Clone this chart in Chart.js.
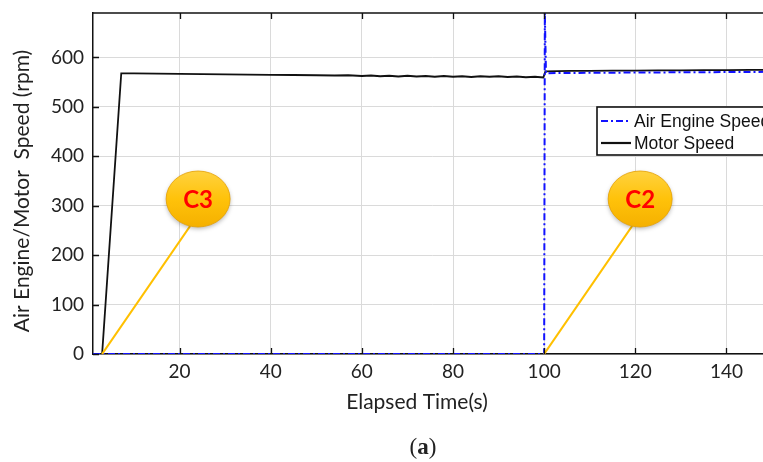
<!DOCTYPE html>
<html>
<head>
<meta charset="utf-8">
<script src="https://cdn.jsdelivr.net/npm/chart.js@4.4.1/dist/chart.umd.min.js"></script>
<style>
  html, body { margin: 0; padding: 0; background: #fff; overflow: hidden; width: 763px; height: 462px; }
  #wrap { position: absolute; left: 0; top: 0; width: 800px; height: 462px; }
</style>
</head>
<body>
<div id="wrap"><canvas id="c" width="800" height="462"></canvas></div>
<script>
// Tick values
const xTicks = [20, 40, 60, 80, 100, 120, 140];
const yTicks = [0, 100, 200, 300, 400, 500, 600];

// Motor speed (rpm) versus elapsed time (s)
const motorTime  = [1, 3, 7.2, 10, 15, 20, 25, 30, 35, 40, 45, 50, 54, 57, 60, 62, 64, 66, 68, 70, 72, 74, 76, 78, 80, 82, 84, 86, 88, 90, 92, 94, 96, 98, 99.8, 100.3, 103, 106, 110, 115, 120, 125, 130, 135, 140, 145, 150];
const motorSpeed = [0, 0, 568, 568, 567.5, 567, 566.5, 566, 565.5, 565, 564.5, 564, 563.5, 564, 562.5, 563.5, 562, 563, 561.5, 563, 561.5, 562.5, 561, 562.5, 561, 562, 560.5, 562, 561, 562, 560.5, 561.5, 560, 561, 559.5, 572, 572.5, 573, 573, 573.5, 573.5, 574, 574, 574.5, 574.5, 575, 575];

// Air engine speed (rpm) versus elapsed time (s)
const airTime  = [1, 100, 100.15, 100.4, 103, 110, 120, 130, 140, 150];
const airSpeed = [0, 0, 690, 568, 568.5, 569, 569.5, 570, 570.5, 571];

const seriesNames = ['Air Engine Speed', 'Motor Speed'];

// Callout labels and the points they mark (time s, speed rpm)
const calloutNames = ['C3', 'C2'];
const calloutTime  = [3, 100];
const calloutSpeed = [0, 0];

const toPoints = (xs, ys) => xs.map((x, i) => ({ x: x, y: ys[i] }));

const AIR_COLOR = '#1212ff';
const MOTOR_COLOR = '#111111';
const AIR_DASH = [7, 3, 2, 3];

// Inward tick marks and the top frame line
const framePlugin = {
  id: 'frame',
  afterDraw(chart) {
    const { ctx, chartArea: a, scales: { x, y } } = chart;
    ctx.save();
    ctx.strokeStyle = '#111';
    ctx.lineWidth = 1.5;
    ctx.beginPath();
    ctx.moveTo(a.left, a.top);
    ctx.lineTo(a.right + 5, a.top);
    ctx.stroke();
    ctx.lineWidth = 1.3;
    ctx.beginPath();
    xTicks.forEach(v => {
      const px = Math.round(x.getPixelForValue(v)) + 0.5;
      ctx.moveTo(px, a.bottom); ctx.lineTo(px, a.bottom - 6);
      ctx.moveTo(px, a.top); ctx.lineTo(px, a.top + 6);
    });
    yTicks.forEach(v => {
      const py = Math.round(y.getPixelForValue(v)) + 0.5;
      ctx.moveTo(a.left, py); ctx.lineTo(a.left + 6, py);
    });
    ctx.stroke();
    ctx.restore();
  }
};

// Boxed legend inside the plot
const legendBoxPlugin = {
  id: 'legendBox',
  afterDraw(chart, args, opts) {
    const { ctx } = chart;
    const left = opts.left, top = opts.top, h = opts.height;
    ctx.save();
    ctx.fillStyle = '#fff';
    ctx.fillRect(left, top, 220, h);
    ctx.strokeStyle = '#111';
    ctx.lineWidth = 1.6;
    ctx.strokeRect(left, top, 220, h);
    ctx.font = '17.5px "Liberation Sans", Arial, sans-serif';
    ctx.textBaseline = 'middle';
    const rows = [
      { name: seriesNames[0], color: AIR_COLOR, dash: AIR_DASH, y: top + 14 },
      { name: seriesNames[1], color: MOTOR_COLOR, dash: [], y: top + 36 }
    ];
    rows.forEach(r => {
      ctx.strokeStyle = r.color;
      ctx.lineWidth = 2.2;
      ctx.setLineDash(r.dash);
      ctx.beginPath();
      ctx.moveTo(left + 4, r.y); ctx.lineTo(left + 34, r.y);
      ctx.stroke();
      ctx.setLineDash([]);
      ctx.fillStyle = '#111';
      ctx.fillText(r.name, left + 37, r.y + 1);
    });
    ctx.restore();
  }
};

// Gold callout bubbles with leader lines
const calloutPlugin = {
  id: 'callouts',
  afterDatasetsDraw(chart, args, opts) {
    const { ctx, scales: { x, y } } = chart;
    ctx.save();
    calloutNames.forEach((name, i) => {
      const ax = x.getPixelForValue(calloutTime[i]);
      const ay = y.getPixelForValue(calloutSpeed[i]);
      const cx = ax + opts.dx, cy = ay + opts.dy;
      const rx = opts.rx, ry = opts.ry;
      ctx.strokeStyle = '#FFC000';
      ctx.lineWidth = 2.2;
      ctx.beginPath();
      ctx.moveTo(ax, ay);
      ctx.lineTo(cx - 8, cy + ry - 1);
      ctx.stroke();
      ctx.save();
      ctx.shadowColor = 'rgba(0,0,0,0.28)';
      ctx.shadowBlur = 4;
      ctx.shadowOffsetY = 2;
      const g = ctx.createLinearGradient(0, cy - ry, 0, cy + ry);
      g.addColorStop(0, '#FFD23F');
      g.addColorStop(0.5, '#FFC20A');
      g.addColorStop(1, '#F5B000');
      ctx.fillStyle = g;
      ctx.beginPath();
      ctx.ellipse(cx, cy, rx, ry, 0, 0, Math.PI * 2);
      ctx.fill();
      ctx.restore();
      ctx.strokeStyle = 'rgba(230,160,0,0.8)';
      ctx.lineWidth = 1;
      ctx.beginPath();
      ctx.ellipse(cx, cy, rx, ry, 0, 0, Math.PI * 2);
      ctx.stroke();
      ctx.fillStyle = '#FF0000';
      ctx.font = 'bold 24px Lato, "Open Sans", sans-serif';
      ctx.textAlign = 'center';
      ctx.textBaseline = 'middle';
      ctx.fillText(name, cx, cy + 1);
    });
    ctx.restore();
  }
};

// Axis titles and panel caption
const titlesPlugin = {
  id: 'titles',
  afterDraw(chart) {
    const { ctx } = chart;
    ctx.save();
    ctx.fillStyle = '#222';
    ctx.textAlign = 'center';
    ctx.textBaseline = 'middle';
    ctx.font = '21px Lato, "Open Sans", sans-serif';
    ctx.fillText('Elapsed Time(s)', 417, 402);
    ctx.translate(22, 191);
    ctx.rotate(-Math.PI / 2);
    ctx.fillText('Air Engine/Motor  Speed (rpm)', 0, 0);
    ctx.restore();

    ctx.save();
    ctx.fillStyle = '#222';
    ctx.textBaseline = 'middle';
    const parts = [
      { t: '(', f: '23px "Liberation Serif", serif' },
      { t: 'a', f: 'bold 23px "Liberation Serif", serif' },
      { t: ')', f: '23px "Liberation Serif", serif' }
    ];
    let total = 0;
    parts.forEach(p => { ctx.font = p.f; p.w = ctx.measureText(p.t).width; total += p.w; });
    let px = 423 - total / 2;
    parts.forEach(p => { ctx.font = p.f; ctx.fillText(p.t, px, 448); px += p.w; });
    ctx.restore();
  }
};

const tickFont = { family: 'Lato, "Open Sans", sans-serif', size: 19 };

new Chart(document.getElementById('c'), {
  type: 'line',
  data: {
    datasets: [
      {
        label: seriesNames[0],
        data: toPoints(airTime, airSpeed),
        borderColor: AIR_COLOR,
        borderWidth: 2,
        borderDash: AIR_DASH,
        pointRadius: 0,
        tension: 0,
        fill: false
      },
      {
        label: seriesNames[1],
        data: toPoints(motorTime, motorSpeed),
        borderColor: MOTOR_COLOR,
        borderWidth: 1.8,
        pointRadius: 0,
        tension: 0,
        fill: false
      }
    ]
  },
  options: {
    responsive: false,
    devicePixelRatio: 1,
    animation: false,
    events: [],
    layout: { padding: { left: 0, top: 13, right: 28, bottom: 0 } },
    plugins: {
      legend: { display: false },
      tooltip: { enabled: false },
      legendBox: { left: 597, top: 107, height: 48 },
      callouts: { dx: 96, dy: -155, rx: 32, ry: 28 }
    },
    scales: {
      x: {
        type: 'linear',
        min: 1,
        max: 150,
        afterBuildTicks: s => { s.ticks = xTicks.map(v => ({ value: v })); },
        afterFit: s => { s.height = 108; s.paddingLeft = 0; s.paddingRight = 0; },
        ticks: { font: tickFont, color: '#222', padding: 6, maxRotation: 0 },
        grid: { color: '#dadada', lineWidth: 1, drawTicks: false },
        border: { display: true, color: '#111', width: 1.5 }
      },
      y: {
        type: 'linear',
        min: 0,
        max: 690,
        afterBuildTicks: s => { s.ticks = yTicks.map(v => ({ value: v })); },
        afterFit: s => { s.width = 93; s.paddingTop = 0; s.paddingBottom = 0; },
        ticks: { font: tickFont, color: '#222', padding: 9 },
        grid: { color: '#dadada', lineWidth: 1, drawTicks: false },
        border: { display: true, color: '#111', width: 1.5 }
      }
    }
  },
  plugins: [framePlugin, calloutPlugin, legendBoxPlugin, titlesPlugin]
});
</script>
</body>
</html>
